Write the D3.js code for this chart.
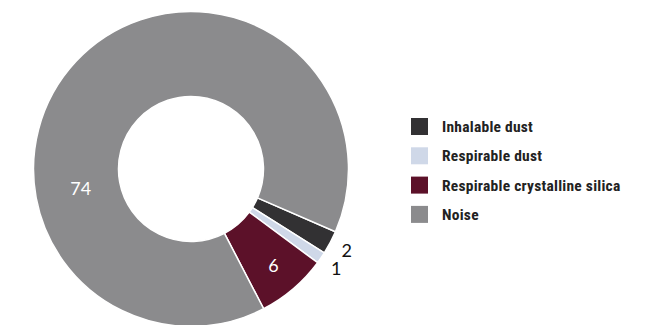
<!DOCTYPE html>
<html>
<head>
<meta charset="utf-8">
<script src="https://cdn.jsdelivr.net/npm/d3@7"></script>
<style>
  body { margin: 0; background: #fff; }
  svg { display: block; }
</style>
</head>
<body>
<script>
// chart data
var categories = ["Inhalable dust", "Respirable dust", "Respirable crystalline silica", "Noise"];
var values = [2, 1, 6, 74];
var colors = ["#323133", "#cfd8e8", "#5c1129", "#8b8b8d"];

var width = 651, height = 325;
var cx = 191, cy = 169;
var outerR = 157.5, innerR = 72.5;

var svg = d3.select("body").append("svg")
    .attr("width", width)
    .attr("height", height);

var data = categories.map(function (c, i) { return { name: c, value: values[i], color: colors[i] }; });

// pie starts a bit past 3 o'clock, clockwise
var start = 113.5 * Math.PI / 180;
var pie = d3.pie()
    .value(function (d) { return d.value; })
    .sort(null)
    .startAngle(start)
    .endAngle(start + 2 * Math.PI);

var arc = d3.arc().innerRadius(innerR).outerRadius(outerR);

var g = svg.append("g").attr("transform", "translate(" + cx + "," + cy + ")");
var arcs = pie(data);

g.selectAll("path.slice")
    .data(arcs)
    .enter().append("path")
    .attr("class", "slice")
    .attr("d", arc)
    .attr("fill", function (d) { return d.data.color; })
    .attr("stroke", "#fff")
    .attr("stroke-width", 1.5);

// labels
function polar(a, r) { return [Math.sin(a) * r, -Math.cos(a) * r]; }
function labelPos(d) {
    var mid = (d.startAngle + d.endAngle) / 2;
    if (d.data.value < 5) return polar(mid, 176);
    if (d.data.name == "Noise") return polar(260 * Math.PI / 180, 112);
    return polar(mid, 127);
}

g.selectAll("text.val")
    .data(arcs)
    .enter().append("text")
    .attr("class", "val")
    .attr("x", function (d) { return labelPos(d)[0]; })
    .attr("y", function (d) { return labelPos(d)[1]; })
    .attr("dy", "0.35em")
    .attr("text-anchor", "middle")
    .style("font-family", "Lato, 'DejaVu Sans', sans-serif")
    .style("font-size", "18px")
    .attr("fill", function (d) { return d.data.value < 5 ? "#111" : "#fff"; })
    .text(function (d) { return d.data.value; });

// legend
var legend = svg.append("g").attr("class", "legend")
    .attr("transform", "translate(411,118)");

var item = legend.selectAll("g")
    .data(data)
    .enter().append("g")
    .attr("transform", function (d, i) { return "translate(0," + (i * 29.3) + ")"; });

item.append("rect")
    .attr("width", 17)
    .attr("height", 17)
    .attr("fill", function (d) { return d.color; });

item.append("text")
    .attr("x", 31)
    .attr("y", 8.5)
    .attr("dy", "0.35em")
    .style("font-family", "'Liberation Sans Narrow', 'Roboto Condensed', sans-serif")
    .style("font-weight", "bold")
    .style("font-size", "15.5px")
    .style("letter-spacing", "0.25px")
    .attr("fill", "#222")
    .text(function (d) { return d.name; });
</script>
</body>
</html>
